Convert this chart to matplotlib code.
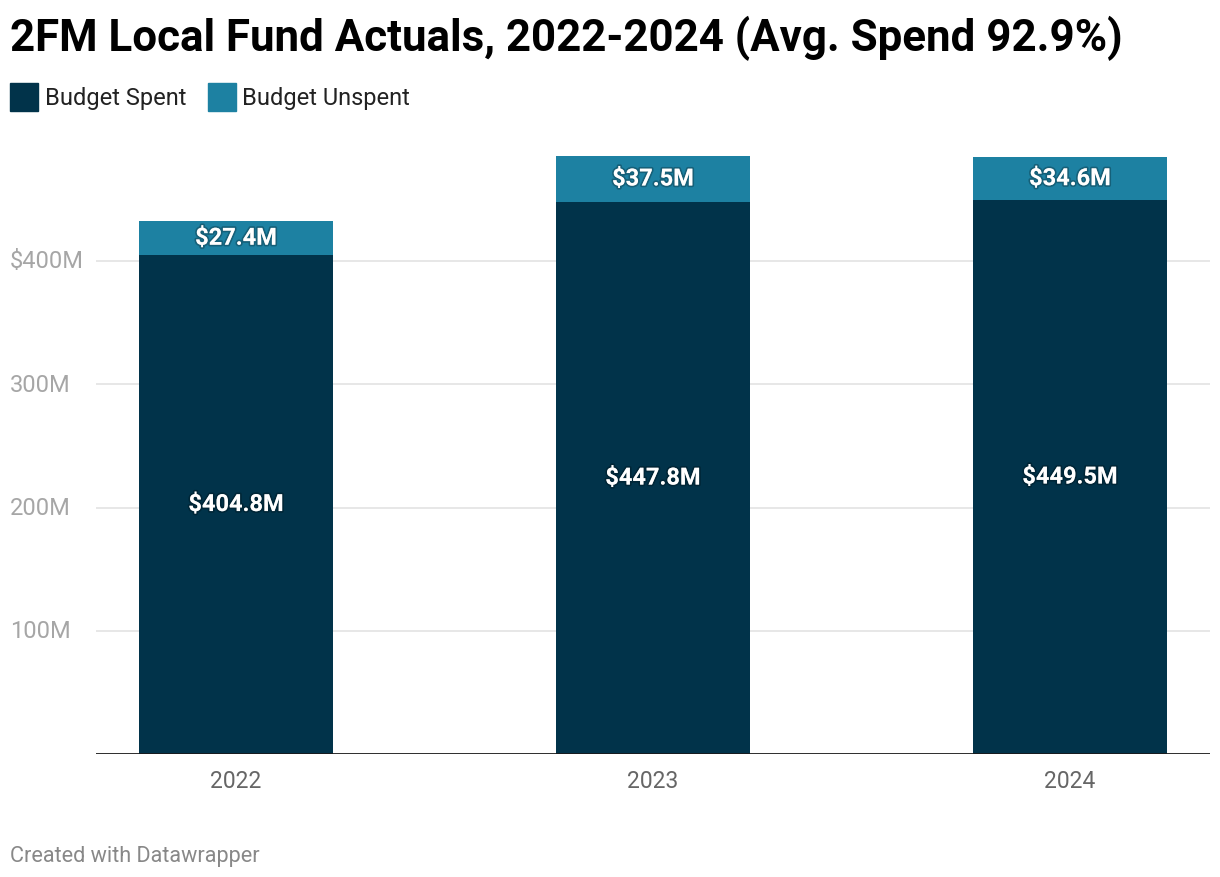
import matplotlib
matplotlib.use("Agg")
import matplotlib.pyplot as plt
import matplotlib.transforms as mtransforms
import matplotlib.patheffects as pe
from matplotlib.patches import Rectangle

years = ["2022", "2023", "2024"]
spent = [404.8, 447.8, 449.5]
unspent = [27.4, 37.5, 34.6]
spent_labels = ["$404.8M", "$447.8M", "$449.5M"]
unspent_labels = ["$27.4M", "$37.5M", "$34.6M"]
ytick_vals = [100, 200, 300, 400]
ytick_labels = ["100M", "200M", "300M", "$400M"]
series_names = ["Budget Spent", "Budget Unspent"]

C_SPENT = "#01334a"
C_UNSPENT = "#1d81a2"

plt.rcParams['font.family'] = ['Roboto', 'DejaVu Sans']

W, H = 1220, 878
fig = plt.figure(figsize=(W / 100, H / 100), dpi=100)
ax = fig.add_axes([96 / W, 1 - 755 / H, (1210 - 96) / W, (755 - 140) / H])

x = list(range(len(years)))
bw = 0.465
ax.bar(x, spent, width=bw, color=C_SPENT, zorder=3)
ax.bar(x, unspent, bottom=spent, width=bw, color=C_UNSPENT, zorder=3)

ax.set_xlim(-0.336, 2.336)
ax.set_ylim(0, (755 - 140) / 1.2325)

for v in ytick_vals:
    ax.axhline(v, color="#e3e3e3", lw=1.2, zorder=1)
ax.axhline(0, color="#1a1a1a", lw=2, zorder=4)

for s in ax.spines.values():
    s.set_visible(False)
ax.set_yticks([])
ax.set_xticks(x)
ax.set_xticklabels(years, fontsize=16.5, color="#666666")
ax.tick_params(axis="x", length=0, pad=11)

trans = mtransforms.blended_transform_factory(fig.transFigure, ax.transData)
for v, lab in zip(ytick_vals, ytick_labels):
    ax.text(10 / W, v, lab, transform=trans, ha="left", va="center",
            fontsize=17, color="#a6a6a6")

fx = [pe.Stroke(linewidth=2.5, foreground=(0, 0, 0, 0.25)), pe.Normal()]
for i in x:
    ax.text(i, spent[i] / 2, spent_labels[i], ha="center", va="center",
            fontsize=17, fontweight="bold", color="white", zorder=5, path_effects=fx)
    ax.text(i, spent[i] + unspent[i] / 2, unspent_labels[i], ha="center", va="center",
            fontsize=17, fontweight="bold", color="white", zorder=5, path_effects=fx)

fig.text(10 / W, 1 - 38 / H, "2FM Local Fund Actuals, 2022-2024 (Avg. Spend 92.9%)",
         ha="left", va="center", fontsize=31.6, fontweight="bold", color="#000000")

# legend
leg_items = [(10, 45, C_SPENT, series_names[0]), (208, 242, C_UNSPENT, series_names[1])]
for sx, tx, c, name in leg_items:
    fig.patches.append(Rectangle((sx / W, 1 - 112 / H), 28 / W, 28 / H,
                                 transform=fig.transFigure, color=c))
    fig.text(tx / W, 1 - 99 / H, name, ha="left", va="center", fontsize=17, color="#222222")

fig.text(10 / W, 1 - 857 / H, "Created with Datawrapper", ha="left", va="center",
         fontsize=15.6, color="#888888")

fig.savefig("out.png", dpi=100)
